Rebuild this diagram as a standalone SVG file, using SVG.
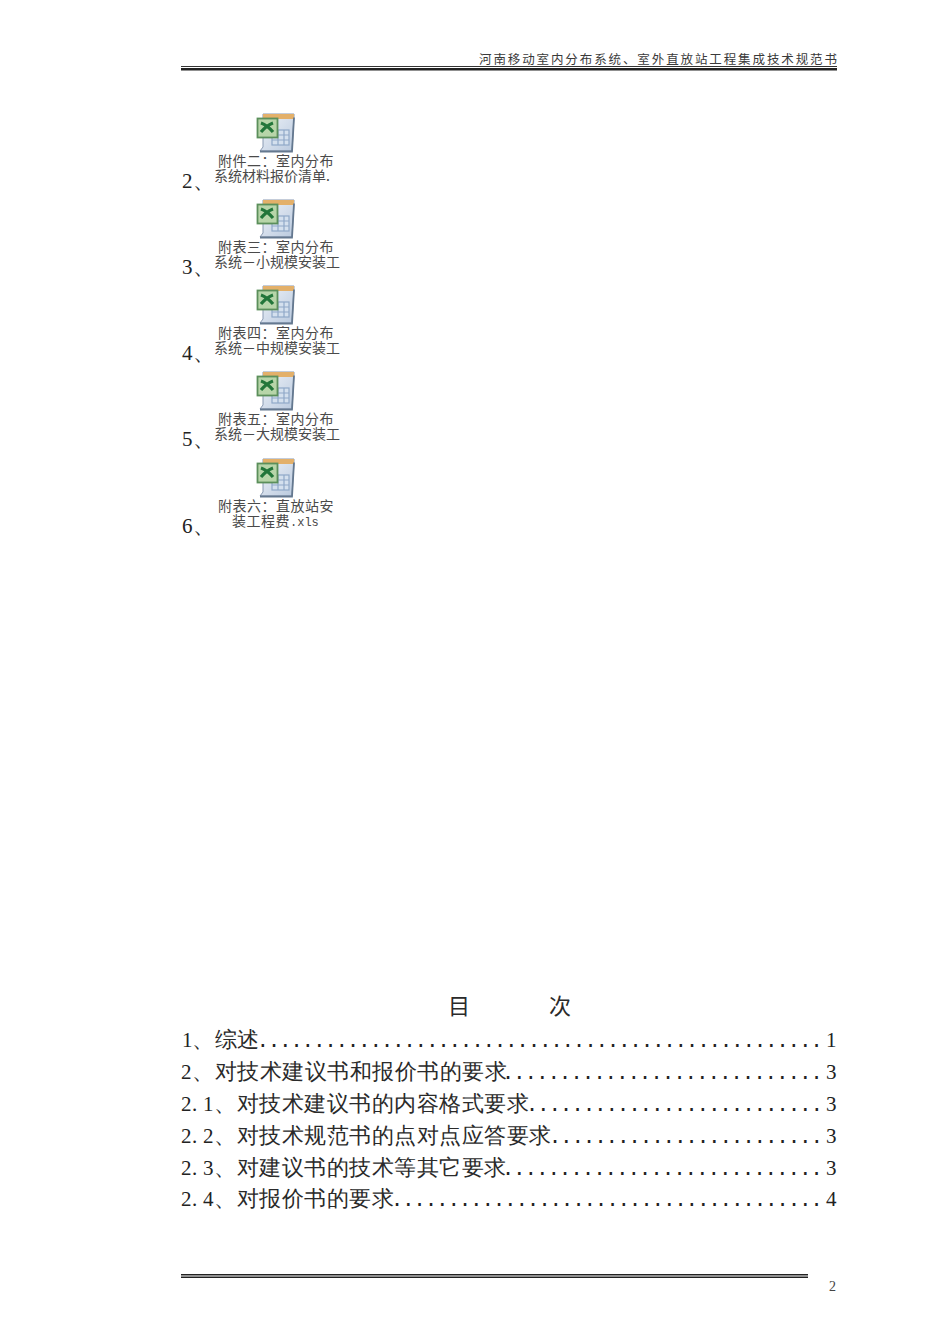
<svg xmlns="http://www.w3.org/2000/svg" width="950" height="1344" viewBox="0 0 950 1344">
<style>
text{font-family:"Noto Sans CJK SC","Liberation Sans",sans-serif;fill:#222;white-space:pre}
.d{font-family:"Liberation Serif",serif;font-size:21px}
.z{font-size:22px;letter-spacing:.5px;fill:#2a2a2a}
.cap{font-size:14px;letter-spacing:.5px;fill:#4a4a4a}
.cap2{font-size:14px;fill:#4a4a4a}
.dots{font-family:"Liberation Mono",monospace;font-size:21px;fill:#222}
</style>
<defs>
<linearGradient id="sheet" x1="0" y1="0" x2="1" y2="1"><stop offset="0" stop-color="#f2f5fa"/><stop offset="1" stop-color="#b9c9de"/></linearGradient>
<g id="xls">
<path d="M263 114h31v2l-2 35h-32l3-4z" fill="url(#sheet)" stroke="#8899b2"/>
<rect x="263" y="114" width="31" height="5" fill="#e3b06a"/>
<path d="M260 151.500h32l2-34" fill="none" stroke="#64788f" stroke-width="1.800"/>
<g fill="none" stroke="#8fa8c8" stroke-width="1.200"><rect x="272" y="130" width="17" height="15" fill="#d4e0ee"/><path d="M272 135h17M272 140h17M278 130v15M284 130v15"/></g>
<rect x="257.500" y="118.500" width="20" height="19" fill="#b7d5a9" stroke="#5b8f5b" stroke-width="1.800"/>
<path d="M261 123q6 2 12 9M273 123q-6 2 -12 9" fill="none" stroke="#23763a" stroke-width="3.200"/>
</g>
</defs>
<g id="header">
<text x="479" y="64" font-size="12.500" textLength="358" style="fill:#3a3a3a">河南移动室内分布系统、室外直放站工程集成技术规范书</text>
<rect x="181" y="66" width="656" height="1" fill="#333"/>
<rect x="181" y="68" width="656" height="2.500" fill="#222"/>
</g>
<g id="att2"><use href="#xls"/><text class="d" x="182" y="188">2<tspan class="z" x="193">、</tspan></text><text><tspan class="cap" x="218" y="166">附件二：室内分布</tspan><tspan class="cap2" x="214" y="181">系统材料报价清单.</tspan></text></g>
<g id="att3"><use href="#xls" y="86"/><text class="d" x="182" y="274">3<tspan class="z" x="193">、</tspan></text><text><tspan class="cap" x="218" y="252">附表三：室内分布</tspan><tspan class="cap2" x="214" y="267">系统－小规模安装工</tspan></text></g>
<g id="att4"><use href="#xls" y="172"/><text class="d" x="182" y="360">4<tspan class="z" x="193">、</tspan></text><text><tspan class="cap" x="218" y="338">附表四：室内分布</tspan><tspan class="cap2" x="214" y="353">系统－中规模安装工</tspan></text></g>
<g id="att5"><use href="#xls" y="258"/><text class="d" x="182" y="446">5<tspan class="z" x="193">、</tspan></text><text><tspan class="cap" x="218" y="424">附表五：室内分布</tspan><tspan class="cap2" x="214" y="439">系统－大规模安装工</tspan></text></g>
<g id="att6"><use href="#xls" y="345"/><text class="d" x="182" y="533">6<tspan class="z" x="193">、</tspan></text><text><tspan class="cap" x="218" y="511">附表六：直放站安</tspan><tspan class="cap" x="232" y="526">装工程费<tspan style="font-family:'Liberation Mono',monospace;font-size:12px;letter-spacing:0">.xls</tspan></tspan></text></g>
<g id="toc">
<text class="z" x="448" y="1014">目</text><text class="z" x="549" y="1014">次</text>
<text class="d" x="182" y="1047">1<tspan class="z" x="192">、综述</tspan></text><text class="dots" x="256.400" y="1047" style="letter-spacing:-1.300px">..................................................</text><text class="d" x="826" y="1047">1</text>
<text class="d" x="181" y="1079">2<tspan class="z" x="192">、对技术建议书和报价书的要求</tspan></text><text class="dots" x="501.700" y="1079" style="letter-spacing:-1.170px">............................</text><text class="d" x="826" y="1079">3</text>
<text class="d" y="1111" x="181 192 203">2.1<tspan class="z" x="214">、对技术建议书的内容格式要求</tspan></text><text class="dots" x="525.700" y="1111" style="letter-spacing:-1.210px">..........................</text><text class="d" x="826" y="1111">3</text>
<text class="d" y="1143" x="181 192 203">2.2<tspan class="z" x="214">、对技术规范书的点对点应答要求</tspan></text><text class="dots" x="548.700" y="1143" style="letter-spacing:-1.220px">........................</text><text class="d" x="826" y="1143">3</text>
<text class="d" y="1175" x="181 192 203">2.3<tspan class="z" x="214">、对建议书的技术等其它要求</tspan></text><text class="dots" x="501.700" y="1175" style="letter-spacing:-1.170px">............................</text><text class="d" x="826" y="1175">3</text>
<text class="d" y="1206" x="181 192 203">2.4<tspan class="z" x="214">、对报价书的要求</tspan></text><text class="dots" x="390.700" y="1206" style="letter-spacing:-1.260px">......................................</text><text class="d" x="826" y="1206">4</text>
</g>
<g id="footer">
<rect x="181" y="1274" width="627" height="1.500" fill="#222"/>
<rect x="181" y="1276.500" width="627" height="1.500" fill="#222"/>
<text x="829" y="1291" font-size="14" style="font-family:'Liberation Serif',serif;fill:#444">2</text>
</g>
</svg>
